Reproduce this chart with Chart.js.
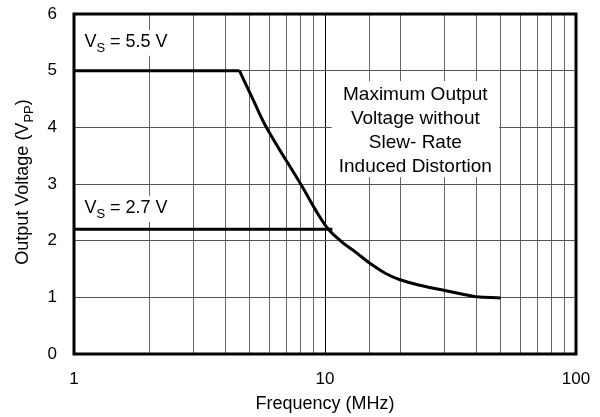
<!DOCTYPE html>
<html>
<head>
<meta charset="utf-8">
<script src="https://cdn.jsdelivr.net/npm/chart.js@4.4.0/dist/chart.umd.min.js"></script>
<style>
  html, body { margin: 0; padding: 0; background: #fff; }
</style>
</head>
<body>
<canvas id="myChart" width="600" height="417"></canvas>
<script>
// values (frequency in MHz, output voltage in Vpp)
const freq55 = [1, 4.56, 5.18, 5.86, 8.0, 10.0, 11.5, 13.4, 15.1, 17.3, 19.9, 24.6, 30, 35, 40, 50];
const volt55 = [5, 5, 4.48, 3.99, 3.0, 2.28, 2.0, 1.78, 1.6, 1.43, 1.31, 1.2, 1.12, 1.06, 1.01, 0.99];
const freq27 = [1, 10.7];
const volt27 = [2.2, 2.2];
const yTicks = [0, 1, 2, 3, 4, 5, 6];
const noteLines = ['Maximum Output', 'Voltage without', 'Slew- Rate', 'Induced Distortion'];

const FONT = '"Liberation Sans", Arial, sans-serif';
Chart.defaults.font.family = FONT;
Chart.defaults.color = '#000';

function toPoints(xs, ys) {
    return xs.map((x, i) => ({ x: x, y: ys[i] }));
}

// draws main text + subscript + rest, left aligned at x, baseline y
function subText(ctx, x, y, main, sub, rest, size) {
    ctx.font = `${size}px ${FONT}`;
    ctx.fillText(main, x, y);
    x += ctx.measureText(main).width;
    ctx.font = `${Math.round(size * 0.72)}px ${FONT}`;
    ctx.fillText(sub, x, y + 5);
    x += ctx.measureText(sub).width;
    ctx.font = `${size}px ${FONT}`;
    ctx.fillText(rest, x, y);
}

function subWidth(ctx, main, sub, rest, size) {
    ctx.font = `${size}px ${FONT}`;
    let w = ctx.measureText(main).width + ctx.measureText(rest).width;
    ctx.font = `${Math.round(size * 0.72)}px ${FONT}`;
    return w + ctx.measureText(sub).width;
}

const notes = {
    id: 'notes',
    beforeDatasetsDraw(chart) {
        const { ctx, scales: { x, y } } = chart;
        ctx.save();
        ctx.fillStyle = '#000';
        ctx.textAlign = 'left';
        ctx.textBaseline = 'alphabetic';

        // supply voltage labels on white
        [['5.5', 5.42], ['2.7', 2.49]].forEach(([v, at]) => {
            const px = x.getPixelForValue(1.1);
            const py = y.getPixelForValue(at);
            const w = subWidth(ctx, 'V', 'S', ` = ${v} V`, 18);
            ctx.fillStyle = '#fff';
            ctx.fillRect(px - 4, py - 17, w + 8, 26);
            ctx.fillStyle = '#000';
            subText(ctx, px, py, 'V', 'S', ` = ${v} V`, 18);
        });

        // annotation block
        ctx.font = `19px ${FONT}`;
        const cx = x.getPixelForValue(22.9);
        const cy = y.getPixelForValue(3.96);
        const maxW = Math.max(...noteLines.map(t => ctx.measureText(t).width));
        const first = cy - 1.5 * 24 + 6.5;
        const last = cy + 1.5 * 24 + 6.5;
        ctx.fillStyle = '#fff';
        ctx.fillRect(cx - maxW / 2 - 7, first - 19, maxW + 14, last - first + 24);
        ctx.fillStyle = '#000';
        ctx.textAlign = 'center';
        noteLines.forEach((t, i) => ctx.fillText(t, cx, first + i * 24));
        ctx.restore();
    },
    afterDraw(chart) {
        const { ctx, chartArea: a } = chart;
        ctx.save();
        ctx.strokeStyle = '#000';
        ctx.lineWidth = 3;
        ctx.strokeRect(a.left, a.top, a.right - a.left, a.bottom - a.top);

        // axis titles
        ctx.fillStyle = '#000';
        ctx.font = `18px ${FONT}`;
        ctx.textAlign = 'center';
        ctx.textBaseline = 'alphabetic';
        ctx.fillText('Frequency (MHz)', (a.left + a.right) / 2, 409);

        ctx.translate(28, (a.top + a.bottom) / 2 - 2);
        ctx.rotate(-Math.PI / 2);
        ctx.textAlign = 'left';
        const w = subWidth(ctx, 'Output Voltage (V', 'PP', ')', 18);
        subText(ctx, -w / 2, 0, 'Output Voltage (V', 'PP', ')', 18);
        ctx.restore();
    }
};

const ctx = document.getElementById('myChart');
const pts55 = toPoints(freq55, volt55);
const lineStyle = { showLine: true, borderColor: '#000', borderWidth: 3, pointRadius: 0 };

new Chart(ctx, {
    type: 'scatter',
    data: {
        datasets: [{
            // flat part up to the knee
            label: 'VS = 5.5 V',
            data: pts55.slice(0, 2),
            ...lineStyle,
            tension: 0
        }, {
            // roll-off from the knee on
            label: 'VS = 5.5 V',
            data: pts55.slice(1),
            ...lineStyle,
            tension: 0.4
        }, {
            label: 'VS = 2.7 V',
            data: toPoints(freq27, volt27),
            ...lineStyle,
            tension: 0
        }]
    },
    options: {
        responsive: false,
        animation: false,
        layout: { padding: 0 },
        plugins: {
            legend: { display: false },
            tooltip: { enabled: false }
        },
        scales: {
            x: {
                type: 'logarithmic',
                min: 1,
                max: 100,
                afterFit: s => {
                    s.height = 63;
                    s.paddingLeft = 0;
                    s.paddingRight = 24;
                },
                border: { display: false },
                grid: {
                    drawTicks: false,
                    lineWidth: 1,
                    color: c => Math.abs(Math.log10(c.tick.value) % 1) < 1e-9 ? '#000' : '#666'
                },
                ticks: {
                    autoSkip: false,
                    maxRotation: 0,
                    padding: 15,
                    font: { size: 17 },
                    callback: v => Math.abs(Math.log10(v) % 1) < 1e-9 ? String(v) : ''
                }
            },
            y: {
                min: 0,
                max: 6,
                afterFit: s => {
                    s.width = 74;
                    s.paddingTop = 14;
                    s.paddingBottom = 0;
                },
                afterBuildTicks: s => { s.ticks = yTicks.map(v => ({ value: v })); },
                border: { display: false },
                grid: { drawTicks: false, lineWidth: 1, color: '#555' },
                ticks: { padding: 17, font: { size: 17 } }
            }
        }
    },
    plugins: [notes]
});
</script>
</body>
</html>
